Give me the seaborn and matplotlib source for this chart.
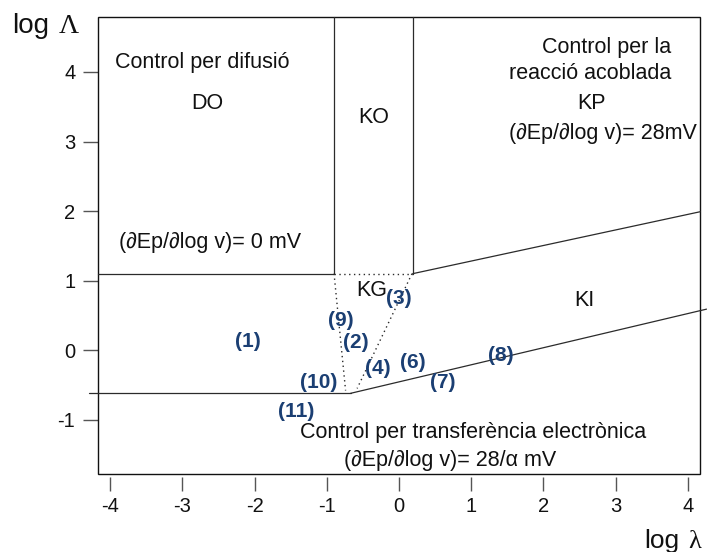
import matplotlib
matplotlib.use("Agg")
import matplotlib.pyplot as plt
from matplotlib.patches import Rectangle
import numpy as np
import pandas as pd
import seaborn as sns

# Zone limits in (log lambda, log Lambda)
x_lim = (-4.17, 4.17)
y_lim = (-1.78, 4.79)
x_ticks = [-4, -3, -2, -1, 0, 1, 2, 3, 4]
y_ticks = [-1, 0, 1, 2, 3, 4]

# Solid zone boundaries (each a pair of end points)
solid_x = [[-4.17, -0.90], [-0.90, -0.90], [0.19, 0.19], [0.19, 4.17],
           [-0.67, 4.26], [-4.30, -0.67]]
solid_y = [[1.10, 1.10], [1.10, 4.79], [1.10, 4.79], [1.10, 1.99],
           [-0.62, 0.59], [-0.61, -0.61]]

# Dotted limits of the KG zone
dotted_x = [[-0.90, 0.19], [-0.90, -0.74], [0.18, -0.58]]
dotted_y = [[1.10, 1.10], [1.10, -0.58], [1.10, -0.55]]

# Experimental cases
case_labels = ["(1)", "(2)", "(3)", "(4)", "(6)", "(7)", "(8)", "(9)", "(10)", "(11)"]
case_x = [-2.10, -0.60, 0.00, -0.29, 0.19, 0.60, 1.41, -0.81, -1.11, -1.43]
case_y = [0.12, 0.11, 0.75, -0.26, -0.17, -0.47, -0.07, 0.43, -0.47, -0.88]

# Zone texts
zone_texts = ["Control per difusió", "DO", "KO", "Control per la", "reacció acoblada",
              "KP", "(∂Ep/∂log v)= 28mV", "(∂Ep/∂log v)= 0 mV", "KG", "KI",
              "Control per transferència electrònica", "(∂Ep/∂log v)= 28/α mV"]
zone_x = [-2.72, -2.65, -0.35, 2.88, 2.65, 2.67, 2.83, -2.62, -0.375, 2.57, 1.03, 0.71]
zone_y = [4.14, 3.55, 3.35, 4.35, 3.98, 3.55, 3.12, 1.55, 0.86, 0.72, -1.19, -1.58]

sns.set_theme(style="white")
plt.rcParams["font.family"] = ["Liberation Sans", "DejaVu Sans"]

fig = plt.figure(figsize=(7.07, 5.52), dpi=100)
ax = fig.add_axes([98 / 707, 78 / 552, 602 / 707, 457 / 552])

line_color = "#2b2b2b"
for xs, ys in zip(solid_x, solid_y):
    seg = pd.DataFrame({"x": xs, "y": ys})
    sns.lineplot(data=seg, x="x", y="y", sort=False, estimator=None,
                 color=line_color, linewidth=0.9, ax=ax, clip_on=False)
for xs, ys in zip(dotted_x, dotted_y):
    seg = pd.DataFrame({"x": xs, "y": ys})
    sns.lineplot(data=seg, x="x", y="y", sort=False, estimator=None,
                 color=line_color, linewidth=1.0, linestyle=(0, (1, 2.5)), ax=ax)

for t, x, y in zip(zone_texts, zone_x, zone_y):
    ax.text(x, y, t, ha="center", va="center", fontsize=15.5, color="#111111")

for t, x, y in zip(case_labels, case_x, case_y):
    ax.text(x, y, t, ha="center", va="center", fontsize=15,
            fontweight="bold", color="#1b3f73")

ax.set_xlim(*x_lim)
ax.set_ylim(*y_lim)
ax.set_xticks(x_ticks)
ax.set_yticks(y_ticks)
ax.set_xticklabels([str(v) for v in x_ticks])
ax.set_yticklabels([str(v) for v in y_ticks])
ax.set_xlabel("")
ax.set_ylabel("")

for s in ax.spines.values():
    s.set_color("none")
ax.spines["bottom"].set_position(("outward", 2.2))
ax.add_patch(Rectangle((0, 0), 1, 1, transform=ax.transAxes, fill=False,
                       edgecolor="#111111", linewidth=1.0, clip_on=False))

ax.tick_params(axis="both", which="both", direction="out", labelsize=14.5,
               colors="#555555", labelcolor="#111111", width=1.0)
ax.tick_params(axis="y", left=True, length=10.8, pad=5.5)
ax.tick_params(axis="x", bottom=True, length=10, pad=4)

# Axis titles
fig.text(12 / 707, 1 - 33 / 552, "log", fontsize=20, ha="left", va="baseline",
         color="#111111")
fig.text(59 / 707, 1 - 33 / 552, "Λ", fontsize=20, ha="left", va="baseline",
         family="Liberation Serif", color="#111111")
fig.text(644 / 707, 1 - 548 / 552, "log", fontsize=19, ha="left", va="baseline",
         color="#111111")
fig.text(688 / 707, 1 - 548 / 552, "λ", fontsize=19, ha="left", va="baseline",
         family="Liberation Serif", color="#111111")

fig.savefig("out.png", dpi=100)
